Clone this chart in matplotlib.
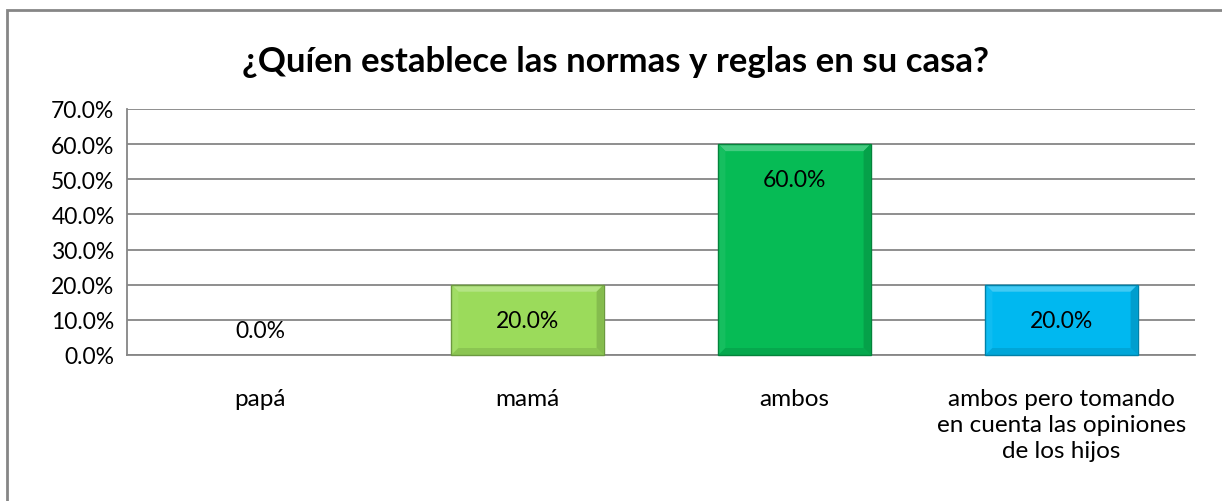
import matplotlib
matplotlib.use("Agg")
import matplotlib.pyplot as plt
from matplotlib.patches import Rectangle, Polygon
from matplotlib.transforms import IdentityTransform
from matplotlib.colors import to_rgb
from matplotlib.ticker import FuncFormatter, MultipleLocator

categories = ["papá", "mamá", "ambos", "ambos pero tomando\nen cuenta las opiniones\nde los hijos"]
values = [0.0, 20.0, 60.0, 20.0]
colors = ["#9BDB5B", "#9BDB5B", "#06BB55", "#00B8F0"]
title = "¿Quíen establece las normas y reglas en su casa?"

plt.rcParams['font.family'] = ['Lato', 'DejaVu Sans']

W, H = 1222, 502
fig = plt.figure(figsize=(W / 100, H / 100), dpi=100)
fig.patch.set_facecolor("white")

# outer chart border (only left/top visible in reference)
fig.add_artist(Rectangle((7 / W, -0.1), 1.2, (H - 11) / H + 0.1, transform=fig.transFigure,
                         fill=False, edgecolor="#868686", linewidth=2.0))

left, right, top, bottom = 127, 1195, 110, 356
ax = fig.add_axes([left / W, 1 - bottom / H, (right - left) / W, (bottom - top) / H])

x = list(range(len(categories)))
bars = ax.bar(x, values, width=0.57, color=colors, edgecolor="none", linewidth=0, zorder=3)

ax.set_ylim(0, 70)
ax.set_xlim(-0.5, len(categories) - 0.5)
ax.yaxis.set_major_locator(MultipleLocator(10))
ax.yaxis.set_major_formatter(FuncFormatter(lambda v, p: f"{v:.1f}%"))
ax.grid(axis="y", color="#868686", linewidth=1.3, zorder=0)
ax.set_axisbelow(True)

for s in ["top", "right"]:
    ax.spines[s].set_visible(False)
ax.spines["left"].set_color("#868686")
ax.spines["bottom"].set_color("#868686")
ax.spines["left"].set_linewidth(1.3)
ax.spines["bottom"].set_linewidth(1.3)

ax.tick_params(axis="y", length=0, labelsize=16.5, pad=9, colors="black")
ax.tick_params(axis="x", length=0, labelsize=17.5, pad=24, colors="black")
ax.set_xticks(x)
ax.set_xticklabels(categories, linespacing=1.28, va="top")


def shade(c, f):
    r, g, b = to_rgb(c)
    if f > 1:
        return (r + (1 - r) * (f - 1), g + (1 - g) * (f - 1), b + (1 - b) * (f - 1))
    return (r * f, g * f, b * f)


# bevel effect
bev = 7
for bar, c, v in zip(bars, colors, values):
    if v <= 0:
        continue
    x0, y0 = ax.transData.transform((bar.get_x(), 0))
    x1, y1 = ax.transData.transform((bar.get_x() + bar.get_width(), v))
    pieces = [
        ([(x0, y1), (x1, y1), (x1 - bev, y1 - bev), (x0 + bev, y1 - bev)], 1.25),
        ([(x0, y0), (x0, y1), (x0 + bev, y1 - bev), (x0 + bev, y0 + bev)], 1.06),
        ([(x1, y0), (x1, y1), (x1 - bev, y1 - bev), (x1 - bev, y0 + bev)], 0.86),
        ([(x0, y0), (x1, y0), (x1 - bev, y0 + bev), (x0 + bev, y0 + bev)], 0.9),
    ]
    for pts, f in pieces:
        fig.add_artist(Polygon(pts, closed=True, transform=IdentityTransform(),
                               facecolor=shade(c, f), edgecolor="none", zorder=5))
    fig.add_artist(Rectangle((x0, y0), x1 - x0, y1 - y0, transform=IdentityTransform(),
                             fill=False, edgecolor=shade(c, 0.7), linewidth=1.0, zorder=6))

for xi, v in zip(x, values):
    ypos = v - 10.2 if v > 0 else 7.0
    ax.text(xi, ypos, f"{v:.1f}%", ha="center", va="center", fontsize=16.5, color="black", zorder=7)

fig.text(616 / W, 1 - 62 / H, title, ha="center", va="center", fontsize=25, fontweight="bold")

fig.savefig("out.png", dpi=100)
